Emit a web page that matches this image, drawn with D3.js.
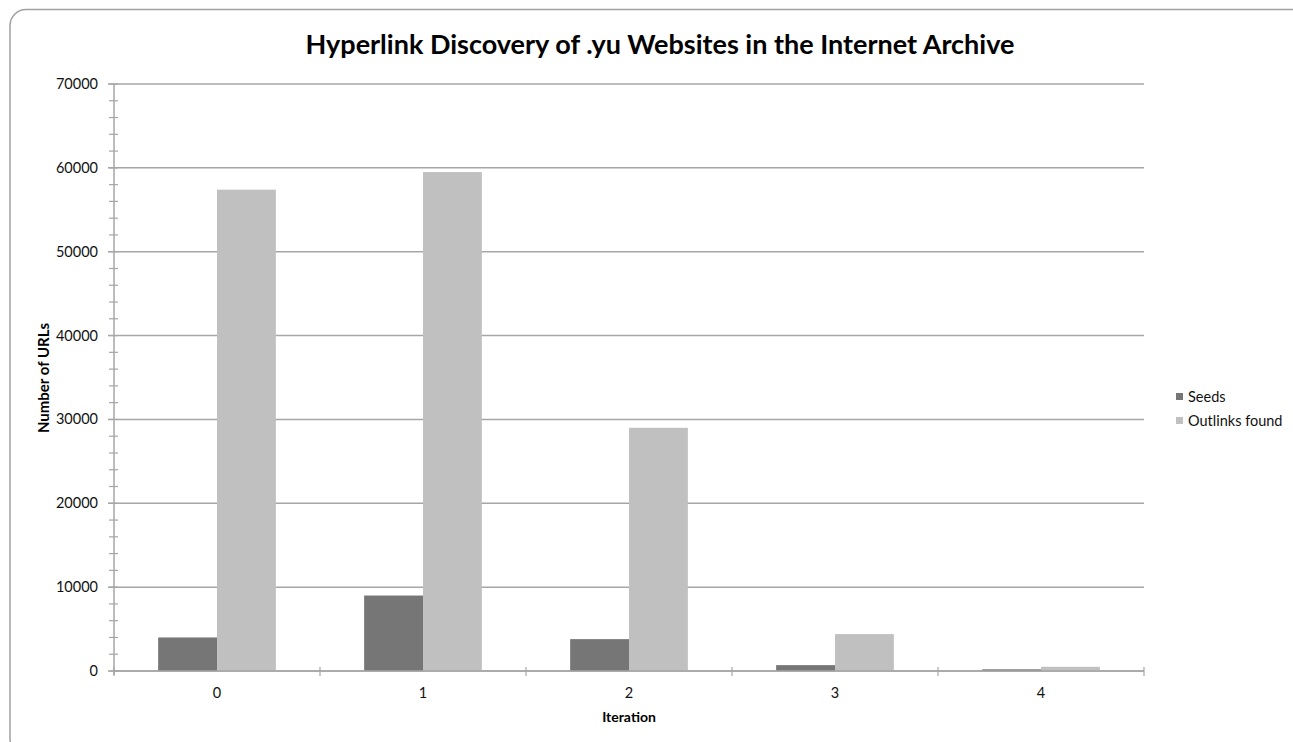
<!DOCTYPE html>
<html><head><meta charset="utf-8">
<script src="https://cdn.jsdelivr.net/npm/d3@7"></script>
<style>body{margin:0;background:#fff;}svg{display:block;font-family:Lato,"Open Sans",sans-serif;}</style>
</head><body>
<svg id="c" width="1293" height="742"></svg>
<script>
const categories = ["0","1","2","3","4"];
const seriesNames = ["Seeds","Outlinks found"];
const seeds = [4000, 9000, 3800, 700, 200];
const outlinks = [57400, 59500, 29000, 4400, 500];
const yTicks = [0,10000,20000,30000,40000,50000,60000,70000];
const colors = ["#767676","#c0c0c0"];

const svg = d3.select("#c");
svg.append("rect").attr("x",10).attr("y",9.5).attr("width",1300).attr("height",745)
  .attr("rx",16).attr("fill","#fff").attr("stroke","#a0a0a0").attr("stroke-width",1.5);

const m = {l:114, r:1144, t:84, b:671};
const x = d3.scaleBand().domain(categories).range([m.l,m.r]);
const x1 = d3.scaleBand().domain(seriesNames).range([0,x.bandwidth()]).paddingOuter(0.75);
const y = d3.scaleLinear().domain([0,70000]).range([m.b,m.t]);
const grid="#a6a6a6";

// gridlines
svg.append("g").selectAll("line").data(yTicks).join("line")
  .attr("x1",m.l-6).attr("x2",m.r).attr("y1",d=>y(d)).attr("y2",d=>y(d))
  .attr("stroke",grid).attr("stroke-width",1.5);

// bars
const data = categories.map((c,i)=>({c, vals:[seeds[i],outlinks[i]]}));
const g = svg.append("g").selectAll("g").data(data).join("g").attr("transform",d=>`translate(${x(d.c)},0)`);
g.selectAll("rect").data(d=>d.vals.map((v,j)=>({v,s:seriesNames[j],j}))).join("rect")
  .attr("x",d=>x1(d.s)).attr("width",x1.bandwidth())
  .attr("y",d=>y(d.v)).attr("height",d=>m.b-y(d.v)).attr("fill",d=>colors[d.j]);

// y axis
const minor = d3.range(0,70001,2000);
svg.append("g").selectAll("line").data(minor).join("line")
  .attr("x1",m.l-5).attr("x2",m.l+4).attr("y1",d=>y(d)).attr("y2",d=>y(d))
  .attr("stroke",grid).attr("stroke-width",1.2);
svg.append("line").attr("x1",m.l).attr("x2",m.l).attr("y1",m.t).attr("y2",m.b+4)
  .attr("stroke",grid).attr("stroke-width",1.5);
svg.append("g").selectAll("text").data(yTicks).join("text")
  .attr("x",98).attr("y",d=>y(d)+5).attr("text-anchor","end")
  .attr("font-size",14.5).attr("fill","#111").text(d=>d);

// x axis
svg.append("line").attr("x1",m.l).attr("x2",m.r).attr("y1",m.b).attr("y2",m.b)
  .attr("stroke",grid).attr("stroke-width",1.5);
const bounds = categories.map(c=>x(c)).concat([m.r]);
svg.append("g").selectAll("line").data(bounds).join("line")
  .attr("x1",d=>d).attr("x2",d=>d).attr("y1",m.b-4).attr("y2",m.b+5)
  .attr("stroke",grid).attr("stroke-width",1.2);
svg.append("g").selectAll("text").data(categories).join("text")
  .attr("x",d=>x(d)+x.bandwidth()/2).attr("y",698).attr("text-anchor","middle")
  .attr("font-size",14.5).attr("fill","#111").text(d=>d);

// titles
svg.append("text").attr("x",660).attr("y",54).attr("text-anchor","middle")
  .attr("font-size",27).attr("font-weight","bold").attr("fill","#000")
  .text("Hyperlink Discovery of .yu Websites in the Internet Archive");
svg.append("text").attr("x",629).attr("y",722).attr("text-anchor","middle")
  .attr("font-size",14).attr("font-weight","bold").attr("fill","#000").text("Iteration");
svg.append("text").attr("transform","translate(49,378) rotate(-90)").attr("text-anchor","middle")
  .attr("font-size",15).attr("font-weight","bold").attr("fill","#000").text("Number of URLs");

// legend
const lg = svg.append("g").selectAll("g").data(seriesNames).join("g")
  .attr("transform",(d,i)=>`translate(1176,${393+i*24})`);
lg.append("rect").attr("width",7).attr("height",7).attr("fill",(d,i)=>colors[i]);
lg.append("text").attr("x",12).attr("y",8.5).attr("font-size",14.5).attr("fill","#111").text(d=>d);
</script>
</body></html>
